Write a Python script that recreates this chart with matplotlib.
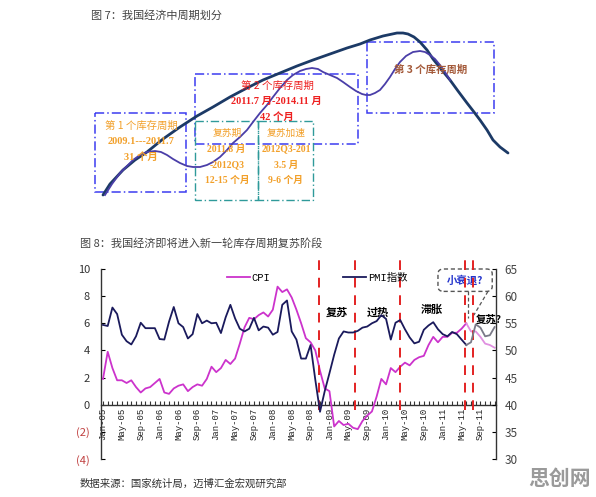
import matplotlib.pyplot as plt
from matplotlib.patches import Rectangle, FancyBboxPatch
from matplotlib.lines import Line2D
from matplotlib.font_manager import FontProperties

plt.rcParams['font.family'] = ['Noto Sans CJK SC', 'DejaVu Sans']

# ---------------- figure 8 data (monthly, Jan-05 .. Dec-11) ----------------
cpi = [1.9, 3.9, 2.7, 1.8, 1.8, 1.6, 1.8, 1.3, 0.9, 1.2, 1.3, 1.6,
       1.9, 0.9, 0.8, 1.2, 1.4, 1.5, 1.0, 1.3, 1.5, 1.4, 1.9, 2.8,
       2.4, 2.7, 3.3, 3.0, 3.4, 4.5, 5.7, 6.4, 6.3, 6.6, 6.8, 6.5,
       7.0, 8.7, 8.3, 8.5, 7.9, 7.0, 6.0, 4.9, 4.6, 4.0, 2.5, 1.2,
       1.0, -1.6, -1.2, -1.5, -1.4, -1.7, -1.8, -1.2, -0.8, -0.5, 0.6, 1.9,
       1.5, 2.7, 2.4, 2.8, 3.1, 2.9, 3.3, 3.5, 3.6, 4.4, 5.0, 4.6,
       5.0, 5.0, 5.3, 5.3, 5.6, 6.0,
       5.4, 5.4, 5.0, 4.5, 4.4, 4.2]
pmi = [54.7, 54.5, 57.9, 56.7, 52.9, 51.7, 51.1, 52.6, 55.1, 54.1, 54.1, 54.1,
       52.1, 52.0, 55.3, 58.0, 55.0, 54.3, 52.2, 53.0, 56.7, 55.0, 55.5, 55.0,
       55.1, 53.2, 56.1, 58.4, 55.9, 54.0, 53.5, 54.0, 56.0, 53.7, 54.4, 54.2,
       52.9, 53.4, 58.4, 59.2, 53.5, 52.0, 48.5, 48.5, 51.0, 44.6, 38.7, 42.5,
       45.8, 49.2, 52.2, 53.5, 53.3, 53.3, 53.6, 54.2, 54.4, 55.0, 55.4, 56.5,
       55.8, 52.0, 55.1, 55.6, 53.9, 52.4, 51.3, 51.6, 53.8, 54.6, 55.2, 53.9,
       53.0, 52.6, 53.4, 53.0, 52.0, 51.0,
       51.5, 54.8, 54.2, 52.6, 52.8, 54.3]
n_actual = 78          # Jan-05 .. Jun-11 observed, the rest projected
month_labels = ['Jan-05', 'May-05', 'Sep-05', 'Jan-06', 'May-06', 'Sep-06',
                'Jan-07', 'May-07', 'Sep-07', 'Jan-08', 'May-08', 'Sep-08',
                'Jan-09', 'May-09', 'Sep-09', 'Jan-10', 'May-10', 'Sep-10',
                'Jan-11', 'May-11', 'Sep-11']
event_months = [45.8, 53.4, 63.0, 76.7, 78.4]
left_ticks = [10, 8, 6, 4, 2, 0, -2, -4]
left_labels = ['10', '8', '6', '4', '2', '0', '(2)', '(4)']
right_ticks = [65, 60, 55, 50, 45, 40, 35, 30]

# ---------------- figure 7 schematic (drawn in pixel space) ----------------
trend_x = [103, 110, 123, 135, 147, 163, 180, 197, 213, 230, 247, 263, 280, 297, 313,
           330, 347, 360, 370, 383, 397, 403, 408, 414, 420, 427, 433, 441, 450,
           458, 467, 474, 480, 487, 493, 500, 508]
trend_y = [195, 184, 170, 160, 152, 139, 127, 116, 107, 97, 88, 80, 73, 66, 60,
           54, 48, 44, 40, 36, 33, 33, 34, 37, 42, 50, 59, 69, 80,
           91, 103, 112, 120, 130, 140, 147, 153]
cycle_x = [105, 112, 120, 127, 133, 140, 147, 155, 161, 167, 173, 180, 187, 193, 200,
           207, 213, 220, 227, 233, 240, 247, 253, 260, 267, 273, 280, 287, 293,
           300, 306, 312, 318, 323, 330, 337, 343, 350, 356, 362, 366, 370, 375,
           380, 385, 390, 395, 400, 406, 413, 420, 425, 430, 435, 440, 445, 450]
cycle_y = [195, 184, 173, 166, 160, 155, 152, 151, 152, 155, 159, 163, 166, 167, 167,
           165, 162, 157, 150, 143, 137, 130, 122, 113, 105, 97, 88, 80, 75,
           71, 69, 68, 69, 72, 75, 78, 82, 87, 91, 94, 95, 95, 93,
           90, 84, 77, 69, 62, 56, 52, 51, 52, 55, 59, 65, 72, 80]

fig = plt.figure(figsize=(5.96, 4.97), dpi=100)

# overlay in pixel coordinates for the schematic and free text
ov = fig.add_axes([0, 0, 1, 1])
ov.set_xlim(0, 596)
ov.set_ylim(497, 0)
ov.axis('off')

ov.text(91, 16, '图 7：我国经济中周期划分', fontsize=8, color='#444444', va='center')
ov.text(80, 243, '图 8：我国经济即将进入新一轮库存周期复苏阶段', fontsize=8,
        color='#444444', va='center')
ov.text(80, 484, '数据来源：国家统计局，迈博汇金宏观研究部', fontsize=7.5,
        color='#333333', va='center')
ov.text(560, 478, '思创网', fontsize=15, color='#9a9a9a', fontweight='bold',
        ha='center', va='center')

blue_box = dict(fill=False, edgecolor='#3c3cf0', lw=1.1, linestyle=(0, (6, 2, 1, 2)))
teal_box = dict(fill=False, edgecolor='#2f9a9a', lw=1.0, linestyle=(0, (6, 2, 1, 2)))
ov.add_patch(Rectangle((95, 113), 91, 79, **blue_box))
ov.add_patch(Rectangle((195, 74), 163, 70, **blue_box))
ov.add_patch(Rectangle((367, 42), 127, 71, **blue_box))
ov.add_patch(Rectangle((195, 121), 63, 79, **teal_box))
ov.add_patch(Rectangle((258, 121), 55, 79, **teal_box))

orange = '#f2a02a'
red = '#ee2020'
brown = '#a45a3a'
fs = 7.5
serif = ['Liberation Serif', 'Noto Sans CJK SC']
ov.text(141, 126, '第 1 个库存周期', color=orange, fontsize=fs, ha='center', va='center')
ov.text(141, 141, '2009.1---2011.7', color=orange, fontsize=7.5, ha='center', va='center',
        fontweight='bold', family=serif)
ov.text(141, 157, '31 个月', color=orange, fontsize=fs, ha='center', va='center',
        fontweight='bold', family=serif)
ov.text(277, 86, '第 2 个库存周期', color=red, fontsize=fs, ha='center', va='center')
ov.text(276, 101, '2011.7 月-2014.11 月', color=red, fontsize=fs, ha='center',
        va='center', fontweight='bold', family=serif)
ov.text(277, 117, '42 个月', color=red, fontsize=fs, ha='center', va='center',
        fontweight='bold', family=serif)
ov.text(431, 70, '第 3 个库存周期', color=brown, fontsize=fs, ha='center', va='center',
        fontweight='bold')
ov.text(227, 133, '复苏期', color=orange, fontsize=7, ha='center', va='center')
ov.text(226, 149, '2011.8 月', color=orange, fontsize=7, ha='center', va='center',
        fontweight='bold', family=serif)
ov.text(227, 165, '-2012Q3', color=orange, fontsize=7, ha='center', va='center',
        fontweight='bold', family=serif)
ov.text(227, 180, '12-15 个月', color=orange, fontsize=7, ha='center', va='center',
        fontweight='bold', family=serif)
ov.text(286, 133, '复苏加速', color=orange, fontsize=7, ha='center', va='center')
ov.text(286, 149, '2012Q3-201', color=orange, fontsize=7, ha='center', va='center',
        fontweight='bold', family=serif)
ov.text(286, 165, '3.5 月', color=orange, fontsize=7, ha='center', va='center',
        fontweight='bold', family=serif)
ov.text(286, 180, '9-6 个月', color=orange, fontsize=7, ha='center', va='center',
        fontweight='bold', family=serif)

ov.plot(trend_x, trend_y, color='#1c3a66', lw=2.0, solid_capstyle='round',
        solid_joinstyle='round')
ov.plot(cycle_x, cycle_y, color='#4a3ea8', lw=1.3, solid_joinstyle='round')

# ---------------- figure 8 chart ----------------
ax = fig.add_axes([101 / 596, 38 / 497, 395 / 596, 190 / 497])
ax.patch.set_alpha(0)
ax2 = ax.twinx()

months = list(range(len(cpi)))
magenta = '#cc33cc'
navy = '#1a1a5c'
ax.plot(months[:n_actual], cpi[:n_actual], color=magenta, lw=1.3, zorder=3)
ax.plot(months[n_actual - 1:], cpi[n_actual - 1:], color='#e090e0', lw=1.3, zorder=3)
ax2.plot(months[:n_actual], pmi[:n_actual], color=navy, lw=1.3, zorder=3)
ax2.plot(months[n_actual - 1:], pmi[n_actual - 1:], color='#7a7a88', lw=1.3, zorder=3)

for m in event_months:
    ax.plot([m, m], [-0.4, 10.7], color='#e32222', lw=1.4, linestyle=(0, (5, 4)),
            clip_on=False, zorder=4)

ax.set_xlim(-0.42, 83.3)
ax.set_ylim(-4, 10)
ax2.set_ylim(30, 65)

for s in ['top', 'right']:
    ax.spines[s].set_visible(False)
for s in ['top', 'left', 'bottom']:
    ax2.spines[s].set_visible(False)
ax.spines['bottom'].set_position(('data', 0))
for sp in [ax.spines['left'], ax.spines['bottom'], ax2.spines['right']]:
    sp.set_color('#333333')
    sp.set_linewidth(1.0)

ax.set_xticks(range(0, 81, 4))
ax.set_xticks(range(0, 84), minor=True)
ax.set_xticklabels(month_labels, rotation=90, fontsize=6.5, family='Liberation Mono',
                   color='#222222')
ax.tick_params(axis='x', which='both', direction='in', length=3, width=0.8,
               color='#333333', pad=2)

ax.set_yticks(left_ticks)
ax.set_yticklabels(left_labels, fontsize=8)
ax.tick_params(axis='y', direction='in', length=3, width=0.8, pad=8)
for lab in ax.get_yticklabels():
    lab.set_color('#c04040' if lab.get_text().startswith('(') else '#333333')

ax2.set_yticks(right_ticks)
ax2.tick_params(axis='y', direction='in', length=3, width=0.8, pad=6,
                labelsize=8.5, labelcolor='#444444')

mono = FontProperties(family=['Liberation Mono', 'Noto Sans CJK SC'], size=7.5)
handles = [Line2D([], [], color=magenta, lw=1.3), Line2D([], [], color=navy, lw=1.3)]
ax2.legend(handles, ['CPI', 'PMI指数'], ncol=2, loc='center left',
           bbox_to_anchor=(0.305, 0.953), frameon=False, prop=mono,
           handlelength=2.2, handletextpad=0.2, columnspacing=7.0, borderpad=0)

ax.text(49.6, 6.8, '复苏', fontsize=8, fontweight='bold', ha='center', va='center')
ax.text(58.3, 6.8, '过热', fontsize=8, fontweight='bold', ha='center', va='center')
ax.text(69.7, 7.0, '滞胀', fontsize=8, fontweight='bold', ha='center', va='center')

box = FancyBboxPatch((71.0, 8.35), 11.5, 1.65, boxstyle='round,pad=0,rounding_size=1.2',
                     fill=False, edgecolor='#555555', lw=1.0, linestyle=(0, (3, 2)),
                     clip_on=False, mutation_aspect=0.3)
ax.add_patch(box)
ax.text(76.7, 9.15, '小衰退?', fontsize=7.5, fontweight='bold', color='#2233cc',
        ha='center', va='center', clip_on=False)
ax.plot([77.3, 77.3], [8.35, 6.4], color='#555555', lw=0.9, linestyle=(0, (3, 2)),
        clip_on=False)
ax.plot([81.6, 78.6], [8.35, 6.6], color='#555555', lw=0.9, linestyle=(0, (3, 2)),
        clip_on=False)
ax.text(81.8, 6.25, '复苏?', fontsize=7.5, fontweight='bold', ha='center',
        va='center', clip_on=False, zorder=6)

fig.savefig('out.png', dpi=100)
